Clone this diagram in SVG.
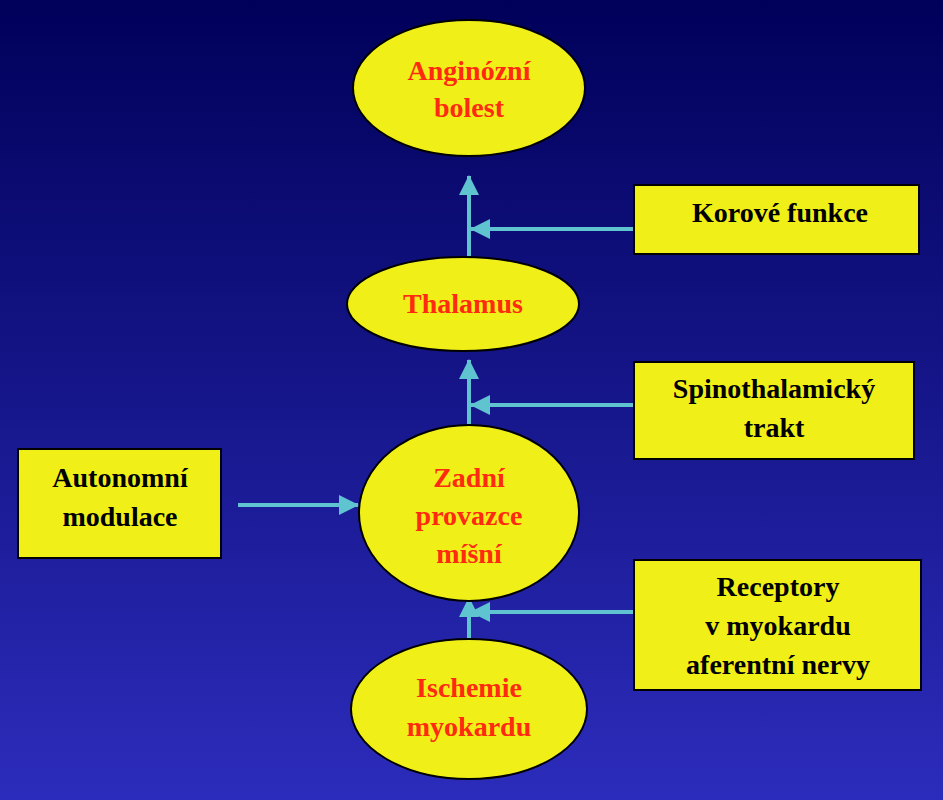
<svg xmlns="http://www.w3.org/2000/svg" width="943" height="800" viewBox="0 0 943 800">
<defs>
<linearGradient id="bg" x1="0" y1="0" x2="0" y2="1">
<stop offset="0" stop-color="#00005a"/>
<stop offset="1" stop-color="#2c2cbc"/>
</linearGradient>
<marker id="ah" markerWidth="20" markerHeight="20" refX="19" refY="10" orient="auto" markerUnits="userSpaceOnUse">
<path d="M0,0 L20,10 L0,20 Z" fill="#5fc4cf"/>
</marker>
<style>
.n{fill:#f0f018;stroke:#000;stroke-width:2}
.r{font-family:"Liberation Serif",serif;font-weight:bold;font-size:28px;fill:#ff2a10;text-anchor:middle}
.b{font-family:"Liberation Serif",serif;font-weight:bold;font-size:28px;fill:#000;text-anchor:middle}
.c{stroke:#5fc4cf;stroke-width:4;fill:none;marker-end:url(#ah)}
</style>
</defs>
<rect width="943" height="800" fill="url(#bg)"/>
<g id="connectors">
<line class="c" x1="469" y1="256" x2="469" y2="176"/>
<line class="c" x1="634" y1="229" x2="471" y2="229"/>
<line class="c" x1="469" y1="425" x2="469" y2="360"/>
<line class="c" x1="634" y1="405" x2="471" y2="405"/>
<line class="c" x1="238" y1="505" x2="358" y2="505"/>
<line class="c" x1="469" y1="638" x2="469" y2="598"/>
<line class="c" x1="634" y1="612" x2="471" y2="612"/>
</g>
<g id="angina"><ellipse class="n" cx="469" cy="88" rx="116" ry="68"/><text class="r" x="469" y="80">Anginózní</text><text class="r" x="469" y="117">bolest</text></g>
<g id="thalamus"><ellipse class="n" cx="463" cy="304" rx="116" ry="47"/><text class="r" x="463" y="313">Thalamus</text></g>
<g id="zadni"><ellipse class="n" cx="469" cy="513" rx="110" ry="88"/><text class="r" x="469" y="487">Zadní</text><text class="r" x="469" y="525">provazce</text><text class="r" x="469" y="563">míšní</text></g>
<g id="ischemie"><ellipse class="n" cx="469" cy="709" rx="118" ry="70"/><text class="r" x="469" y="697">Ischemie</text><text class="r" x="469" y="736">myokardu</text></g>
<g id="korove"><rect class="n" x="634" y="185" width="285" height="69"/><text class="b" x="780" y="222">Korové funkce</text></g>
<g id="spino"><rect class="n" x="634" y="362" width="280" height="97"/><text class="b" x="774" y="398">Spinothalamický</text><text class="b" x="774" y="437">trakt</text></g>
<g id="autonomni"><rect class="n" x="18" y="449" width="203" height="109"/><text class="b" x="120" y="487">Autonomní</text><text class="b" x="120" y="526">modulace</text></g>
<g id="receptory"><rect class="n" x="634" y="560" width="287" height="130"/><text class="b" x="778" y="596">Receptory</text><text class="b" x="778" y="635">v myokardu</text><text class="b" x="778" y="674">aferentní nervy</text></g>
</svg>
